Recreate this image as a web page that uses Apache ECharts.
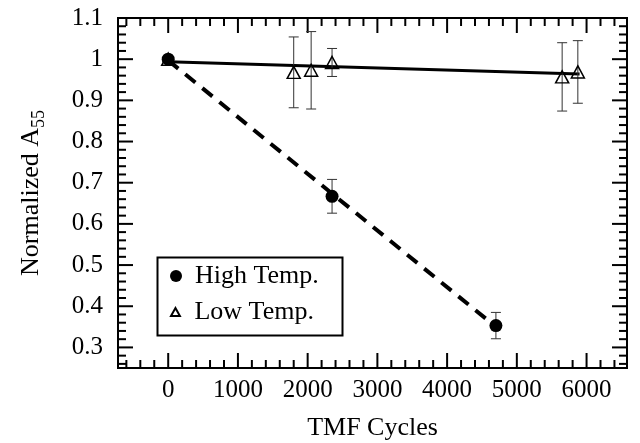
<!DOCTYPE html>
<html>
<head>
<meta charset="utf-8">
<script src="https://cdn.jsdelivr.net/npm/echarts@6/dist/echarts.min.js"></script>
<style>
html,body{margin:0;padding:0;background:#fff;}
#chart{width:640px;height:443px;}
</style>
</head>
<body>
<div id="chart"></div>
<script>
// ---- data ----
const xTicks = [0, 1000, 2000, 3000, 4000, 5000, 6000];
const yTicks = [0.3, 0.4, 0.5, 0.6, 0.7, 0.8, 0.9, 1, 1.1];

const highX = [0, 2350, 4700];
const highY = [1.0, 0.667, 0.353];
const highErr = [0.006, 0.041, 0.032];

const lowX = [0, 1800, 2050, 2350, 5650, 5875];
const lowY = [1.0, 0.968, 0.973, 0.992, 0.957, 0.969];
const lowErr = [0.006, 0.086, 0.094, 0.034, 0.083, 0.076];

const fitHighX = [0, 4700];
const fitHighY = [0.997, 0.350];
const fitLowX = [0, 5900];
const fitLowY = [0.994, 0.964];

// ---- helpers ----
const FONT = "'Liberation Serif','Times New Roman',serif";
const XMIN = -720, XMAX = 6580, YMIN = 0.25, YMAX = 1.1;
const MAJ = 15, MIN = 8;

function tickVals(lo, hi, step, majorStep) {
  const out = [];
  const n0 = Math.ceil(lo / step - 1e-9), n1 = Math.floor(hi / step + 1e-9);
  for (let i = n0; i <= n1; i++) {
    const v = Math.round(i * step * 1e6) / 1e6;
    const r = v / majorStep;
    out.push([v, Math.abs(r - Math.round(r)) < 1e-6 ? 1 : 0]);
  }
  return out;
}
const xTickData = tickVals(XMIN, XMAX, 200, 1000);
const yTickData = tickVals(YMIN, YMAX, 0.02, 0.1);

const zip = (a, b) => a.map((v, i) => [v, b[i]]);
const errData = (xs, ys, es) => xs.map((x, i) => [x, ys[i] - es[i], ys[i] + es[i]]);

function errRender(params, api) {
  const x = api.value(0), lo = api.value(1), hi = api.value(2);
  const p1 = api.coord([x, hi]), p2 = api.coord([x, lo]);
  const w = 5;
  const st = { stroke: '#333', lineWidth: 1 };
  return {
    type: 'group',
    children: [
      { type: 'line', shape: { x1: p1[0], y1: p1[1], x2: p2[0], y2: p2[1] }, style: st },
      { type: 'line', shape: { x1: p1[0] - w, y1: p1[1], x2: p1[0] + w, y2: p1[1] }, style: st },
      { type: 'line', shape: { x1: p2[0] - w, y1: p2[1], x2: p2[0] + w, y2: p2[1] }, style: st }
    ]
  };
}
function xTickRender(params, api) {
  const cs = params.coordSys;
  const x = api.coord([api.value(0), YMIN])[0];
  const len = api.value(1) ? MAJ : MIN;
  const top = cs.y, bot = cs.y + cs.height;
  const st = { stroke: '#000', lineWidth: 2 };
  return {
    type: 'group',
    children: [
      { type: 'line', shape: { x1: x, y1: bot, x2: x, y2: bot - len }, style: st },
      { type: 'line', shape: { x1: x, y1: top, x2: x, y2: top + len }, style: st }
    ]
  };
}
function yTickRender(params, api) {
  const cs = params.coordSys;
  const y = api.coord([XMIN, api.value(0)])[1];
  const len = api.value(1) ? MAJ : MIN;
  const l = cs.x, r = cs.x + cs.width;
  const st = { stroke: '#000', lineWidth: 2 };
  return {
    type: 'group',
    children: [
      { type: 'line', shape: { x1: l, y1: y, x2: l + len, y2: y }, style: st },
      { type: 'line', shape: { x1: r, y1: y, x2: r - len, y2: y }, style: st }
    ]
  };
}

const chart = echarts.init(document.getElementById('chart'), null, { renderer: 'canvas' });
chart.setOption({
  animation: false,
  backgroundColor: '#fff',
  grid: {
    left: 118, top: 18, right: 13, bottom: 75, containLabel: false, outerBoundsMode: 'none',
    show: true, borderColor: '#000', borderWidth: 2, backgroundColor: 'rgba(0,0,0,0)'
  },
  xAxis: {
    type: 'value', min: XMIN, max: XMAX,
    axisLine: { show: false },
    axisTick: { show: false },
    axisLabel: { customValues: xTicks, formatter: v => String(v), color: '#000', fontFamily: FONT, fontSize: 25, margin: 10 },
    splitLine: { show: false },
    name: 'TMF Cycles', nameLocation: 'middle', nameGap: 47,
    nameTextStyle: { color: '#000', fontFamily: FONT, fontSize: 26 }
  },
  yAxis: {
    type: 'value', min: YMIN, max: YMAX,
    axisLine: { show: false },
    axisTick: { show: false },
    axisLabel: { customValues: yTicks, formatter: v => String(v), color: '#000', fontFamily: FONT, fontSize: 25, margin: 15 },
    splitLine: { show: false },
    name: '{a|Normalized A}{s|55}', nameLocation: 'middle', nameGap: 70, nameRotate: 90,
    nameTextStyle: {
      color: '#000', fontFamily: FONT, fontSize: 26,
      rich: {
        a: { fontFamily: FONT, fontSize: 26, color: '#000', lineHeight: 34 },
        s: { fontFamily: FONT, fontSize: 18, color: '#000', lineHeight: 18, verticalAlign: 'bottom' }
      }
    }
  },
  legend: [
    {
      data: ['High Temp.'], left: 170, top: 263, itemWidth: 28, itemHeight: 12, itemGap: 0, padding: 0,
      textStyle: { color: '#000', fontFamily: FONT, fontSize: 26 }
    },
    {
      data: [{ name: 'Low Temp.', icon: 'path://M5,0L10,9L0,9Z' }], left: 170, top: 299, itemWidth: 28, itemHeight: 8, itemGap: 0, padding: 0,
      textStyle: { color: '#000', fontFamily: FONT, fontSize: 26 }
    }
  ],
  graphic: [
    { type: 'rect', left: 155, top: 255, shape: { width: 185, height: 78 }, style: { fill: 'none', stroke: '#000', lineWidth: 2 }, z: 100 }
  ],
  series: [
    { type: 'custom', renderItem: xTickRender, data: xTickData, encode: { x: 0 }, clip: false, silent: true, z: 1 },
    { type: 'custom', renderItem: yTickRender, data: yTickData, encode: { y: 0 }, clip: false, silent: true, z: 1 },
    {
      type: 'line', data: zip(fitLowX, fitLowY), showSymbol: false, symbol: 'none',
      lineStyle: { color: '#000', width: 3 }, z: 2, silent: true
    },
    {
      type: 'line', data: zip(fitHighX, fitHighY), showSymbol: false, symbol: 'none',
      lineStyle: { color: '#000', width: 4, type: [13, 9] }, z: 2, silent: true
    },
    { type: 'custom', renderItem: errRender, data: errData(lowX, lowY, lowErr), encode: { x: 0, y: [1, 2] }, z: 3, silent: true },
    { type: 'custom', renderItem: errRender, data: errData(highX, highY, highErr), encode: { x: 0, y: [1, 2] }, z: 3, silent: true },
    {
      name: 'Low Temp.', type: 'scatter', data: zip(lowX, lowY), symbol: 'triangle', symbolSize: [13, 12],
      itemStyle: { color: 'rgba(255,255,255,0)', borderColor: '#000', borderWidth: 1.5, opacity: 1 }, z: 4
    },
    {
      name: 'High Temp.', type: 'scatter', data: zip(highX, highY), symbol: 'circle', symbolSize: 13,
      itemStyle: { color: '#000', opacity: 1 }, z: 5
    }
  ]
});
</script>
</body>
</html>
